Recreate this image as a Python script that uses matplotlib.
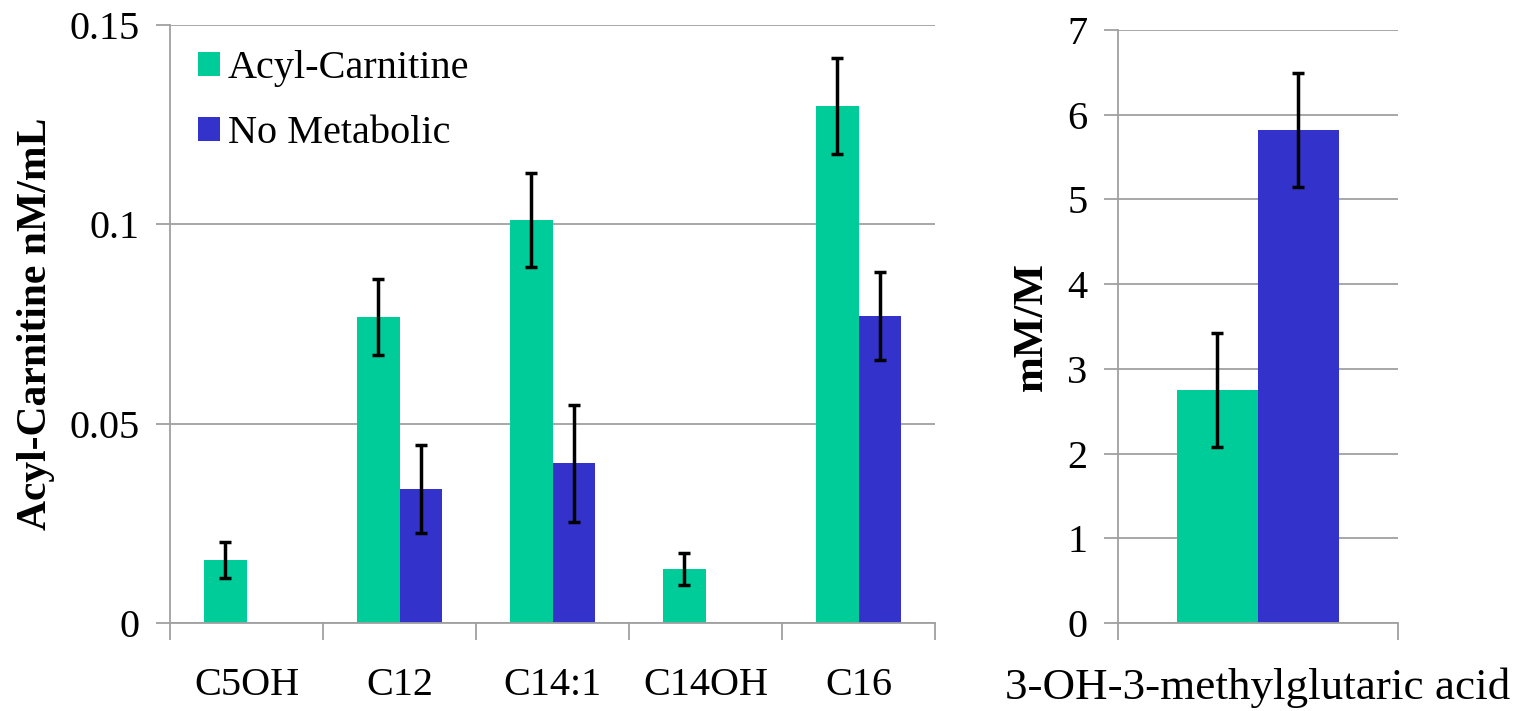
import numpy as np
from matplotlib import pyplot as plt

plt.rcParams['font.family'] = ['Liberation Serif', 'DejaVu Serif']

# left panel data
cats = ['C5OH', 'C12', 'C14:1', 'C14OH', 'C16']
acyl = [0.0158, 0.0767, 0.101, 0.0135, 0.1297]
acylErr = [0.0046, 0.0095, 0.0118, 0.004, 0.012]
noMet = [0, 0.0336, 0.0401, 0, 0.077]
noMetErr = [0, 0.011, 0.0147, 0, 0.011]

# right panel data
cat2 = ['3-OH-3-methylglutaric acid']
acyl2 = [2.75]
acyl2Err = [0.67]
noMet2 = [5.82]
noMet2Err = [0.67]

green = '#00CC99'
blue = '#3333CC'
grid = '#A0A0A0'

fig = plt.figure(figsize=(15.21, 7.11), dpi=100)
ax1 = fig.add_axes([0.1118, 0.1238, 0.503, 0.841])
ax2 = fig.add_axes([0.735, 0.1238, 0.184, 0.834])

def style(ax):
    for s in ['top', 'right']:
        ax.spines[s].set_visible(False)
    for s in ['left', 'bottom']:
        ax.spines[s].set_color(grid)
        ax.spines[s].set_linewidth(1.3)
    ax.yaxis.grid(True, color=grid, linewidth=1.3)
    ax.set_axisbelow(True)
    ax.tick_params(axis='y', colors=grid, labelcolor='black', labelsize=29,
                   length=10, width=1.3, direction='out', pad=12)
    ax.tick_params(axis='x', which='major', length=0, labelsize=29, pad=32)
    ax.tick_params(axis='x', which='minor', colors=grid, length=12, width=1.3)

w = 0.28
x = np.arange(len(cats))
ax1.bar(x - w/2, acyl, w, color=green, label='Acyl-Carnitine')
ax1.bar(x + w/2, noMet, w, color=blue, label='No Metabolic')
ek = dict(fmt='none', ecolor='black', elinewidth=2.5, capsize=4, capthick=2.5)
ax1.errorbar(x - w/2, acyl, yerr=acylErr, **ek)
m = np.array(noMet) > 0
ax1.errorbar((x + w/2)[m], np.array(noMet)[m], yerr=np.array(noMetErr)[m], **ek)
ax1.set_xlim(-0.5, len(cats) - 0.5)
ax1.set_ylim(0, 0.15)
ax1.set_yticks([0, 0.05, 0.1, 0.15])
ax1.set_yticklabels(['0', '0.05', '0.1', '0.15'])
ax1.set_xticks(x)
ax1.set_xticklabels(cats)
ax1.set_xticks(np.arange(len(cats) + 1) - 0.5, minor=True)
style(ax1)
ax1.set_ylabel('Acyl-Carnitine nM/mL', fontsize=30, fontweight='bold', labelpad=10)
ax1.legend(loc='upper left', frameon=False, fontsize=29, handlelength=0.55,
           handleheight=0.55, handletextpad=0.2, labelspacing=0.7,
           borderaxespad=0, bbox_to_anchor=(0.015, 0.985))

w2 = 0.29
x2 = np.arange(len(cat2))
ax2.bar(x2 - w2/2, acyl2, w2, color=green)
ax2.bar(x2 + w2/2, noMet2, w2, color=blue)
ax2.errorbar(x2 - w2/2, acyl2, yerr=acyl2Err, **ek)
ax2.errorbar(x2 + w2/2, noMet2, yerr=noMet2Err, **ek)
ax2.set_xlim(-0.5, 0.5)
ax2.set_ylim(0, 7)
ax2.set_yticks(range(8))
ax2.set_xticks(x2)
ax2.set_xticklabels(cat2)
ax2.set_xticks([-0.5, 0.5], minor=True)
style(ax2)
ax2.tick_params(axis='x', which='major', labelsize=32.5)
ax2.set_ylabel('mM/M', fontsize=31, fontweight='bold', labelpad=12)

fig.savefig('out.png', dpi=100)
